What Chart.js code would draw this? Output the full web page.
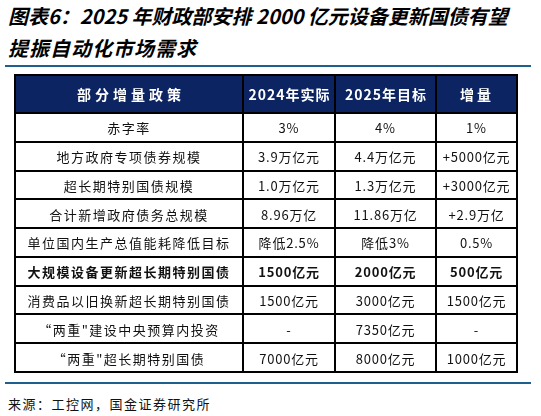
<!DOCTYPE html>
<html>
<head>
<meta charset="utf-8">
<script src="https://cdn.jsdelivr.net/npm/chart.js@4"></script>
<style>
    body { margin: 0; width: 541px; height: 416px; background: #fff; position: relative; overflow: hidden; font-family: "Noto Sans CJK SC", sans-serif; }
    .title { position: absolute; left: 8px; font-size: 20px; font-weight: bold; font-style: italic; color: #000; white-space: nowrap; line-height: 24px; }
    .rule { position: absolute; left: 5px; width: 526px; height: 2px; background: #1f5f8e; }
    .source { position: absolute; left: 8px; top: 394px; font-size: 13px; letter-spacing: 1.5px; color: #111; }
    #table-wrap { position: absolute; left: 13px; top: 73px; width: 506px; height: 301px; }
    #policy-table { display: block; width: 506px; height: 301px; }
</style>
</head>
<body>
<div class="title" style="top:4px;">图表6：2025 年财政部安排 2000 亿元设备更新国债有望</div>
<div class="title" style="top:36px; letter-spacing:1px;">提振自动化市场需求</div>
<div class="rule" style="top:65px;"></div>
<div id="table-wrap"><canvas id="policy-table" width="506" height="301"></canvas></div>
<div class="rule" style="top:382px;"></div>
<div class="source">来源：工控网，国金证券研究所</div>

<script>
// Table content
const headers = ['部分增量政策', '2024年实际', '2025年目标', '增量'];
const policies = [
    '赤字率',
    '地方政府专项债券规模',
    '超长期特别国债规模',
    '合计新增政府债务总规模',
    '单位国内生产总值能耗降低目标',
    '大规模设备更新超长期特别国债',
    '消费品以旧换新超长期特别国债',
    '“两重"建设中央预算内投资',
    '“两重"超长期特别国债'
];
const actual2024 = ['3%', '3.9万亿元', '1.0万亿元', '8.96万亿', '降低2.5%', '1500亿元', '1500亿元', '-', '7000亿元'];
const target2025 = ['4%', '4.4万亿元', '1.3万亿元', '11.86万亿', '降低3%', '2000亿元', '3000亿元', '7350亿元', '8000亿元'];
const increments = ['1%', '+5000亿元', '+3000亿元', '+2.9万亿', '0.5%', '500亿元', '1500亿元', '-', '1000亿元'];
const boldRows = ['大规模设备更新超长期特别国债'];

// Column edges in x-scale units (layout only)
const colEdges = [0, 228, 320, 421, 502];
const headerHeight = 38;
const headerColor = '#0c2462';

const tablePlugin = {
    id: 'tablePlugin',
    afterDraw(chart) {
        const ctx = chart.ctx;
        const x = chart.scales.x;
        const y = chart.scales.y;
        const area = chart.chartArea;
        const columns = [policies, actual2024, target2025, increments];
        const band = y.getPixelForValue(1) - y.getPixelForValue(0);
        const edgePx = colEdges.map(e => x.getPixelForValue(e));
        const left = edgePx[0];
        const right = edgePx[edgePx.length - 1];
        const headTop = area.top - headerHeight;

        ctx.save();

        // Header background
        ctx.fillStyle = headerColor;
        ctx.fillRect(left, headTop, right - left, headerHeight);

        // Header text
        ctx.fillStyle = '#fff';
        ctx.textAlign = 'center';
        ctx.textBaseline = 'middle';
        headers.forEach((h, c) => {
            const cx = (edgePx[c] + edgePx[c + 1]) / 2;
            ctx.font = 'bold 14px "Noto Sans CJK SC"';
            ctx.letterSpacing = c === 0 ? '4px' : (c === 3 ? '3px' : '1px');
            ctx.fillText(h, cx + (c === 0 ? 2 : 0.5), headTop + headerHeight / 2 + 1);
        });

        // Body cells
        ctx.fillStyle = '#111';
        policies.forEach((p, r) => {
            const cy = y.getPixelForValue(r);
            const bold = boldRows.includes(p);
            columns.forEach((col, c) => {
                const cx = (edgePx[c] + edgePx[c + 1]) / 2;
                ctx.font = (bold ? 'bold ' : '') + '13px "Noto Sans CJK SC"';
                ctx.letterSpacing = c === 0 ? '1.5px' : '0.8px';
                ctx.fillText(col[r], cx, cy + 1);
            });
        });

        // Grid lines
        ctx.strokeStyle = '#000';
        ctx.lineWidth = 2;
        ctx.beginPath();
        for (let r = 0; r <= policies.length; r++) {
            const yy = Math.round(y.getPixelForValue(r) - band / 2);
            ctx.moveTo(left - 1, yy);
            ctx.lineTo(right + 1, yy);
        }
        edgePx.forEach(px => {
            const xx = Math.round(px);
            ctx.moveTo(xx, headTop);
            ctx.lineTo(xx, area.bottom);
        });
        ctx.moveTo(left - 1, headTop);
        ctx.lineTo(right + 1, headTop);
        ctx.stroke();

        ctx.restore();
    }
};

const canvas = document.getElementById('policy-table');
new Chart(canvas.getContext('2d'), {
    type: 'scatter',
    data: {
        labels: policies,
        datasets: []
    },
    options: {
        responsive: false,
        animation: false,
        layout: { padding: { left: 2, right: 2, top: 2 + headerHeight, bottom: 2 } },
        plugins: {
            legend: { display: false },
            tooltip: { enabled: false }
        },
        scales: {
            x: { type: 'linear', min: colEdges[0], max: colEdges[colEdges.length - 1], offset: false, display: false },
            y: { type: 'category', labels: policies, offset: true, display: false }
        }
    },
    plugins: [tablePlugin]
});
</script>
</body>
</html>
